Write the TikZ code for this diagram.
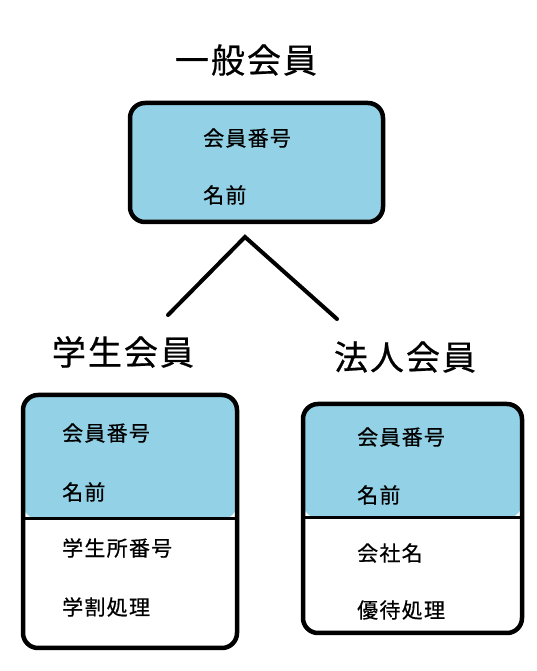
\documentclass[tikz,border=0pt]{standalone}
\usepackage{fontspec}
\setmainfont{Noto Sans CJK JP}
\newfontfamily\jpfont[LetterSpace=6,FakeBold=0.6]{Noto Sans CJK JP}
\definecolor{memblue}{RGB}{147,210,230}
\begin{document}
\begin{tikzpicture}[x=1pt,y=1pt,
  box/.style={draw=black, line width=4.5pt, rounded corners=15pt, inner sep=0pt},
  title/.style={font=\fontsize{34}{40}\selectfont\jpfont, inner sep=0pt},
  attr/.style={font=\fontsize{21}{25}\selectfont\jpfont, anchor=west, inner sep=0pt},
  link/.style={line width=4pt, line cap=round}]
\useasboundingbox (0,0) rectangle (536,671);
% general member
\node[title] (tgen) at (246,611) {一般会員};
\node[box, fill=memblue, minimum width=253pt, minimum height=119pt] (gen) at (256.5,508.5) {};
\node[attr] (g1) at (203,533) {会員番号};
\node[attr] (g2) at (203,476) {名前};
% student member
\node[title] (tstu) at (123,319) {学生会員};
\coordinate (sdivl) at (23,152);
\coordinate (sdivr) at (237,152);
\node[box, minimum width=214pt, minimum height=253pt,
  path picture={\fill[memblue] (path picture bounding box.north west) rectangle ([yshift=-124pt]path picture bounding box.north east);
                \draw[line width=3pt] (sdivl) -- (sdivr);}] (stu) at (130,149.5) {};
\node[attr] (s1) at (62,238) {会員番号};
\node[attr] (s2) at (62,179) {名前};
\node[attr] (s3) at (62,123) {学生所番号};
\node[attr] (s4) at (62,64) {学割処理};
% corporate member
\node[title] (tcor) at (405,314) {法人会員};
\coordinate (cdivl) at (303,153);
\coordinate (cdivr) at (522,153);
\node[box, minimum width=219pt, minimum height=229pt,
  path picture={\fill[memblue] (path picture bounding box.north west) rectangle ([yshift=-114pt]path picture bounding box.north east);
                \draw[line width=3pt] (cdivl) -- (cdivr);}] (cor) at (412.5,152.5) {};
\node[attr] (c1) at (357,234) {会員番号};
\node[attr] (c2) at (357,176) {名前};
\node[attr] (c3) at (357,118) {会社名};
\node[attr] (c4) at (357,61) {優待処理};
% inheritance lines
\coordinate (apex) at (245,434);
\coordinate (lend) at (168,356);
\coordinate (rend) at (337,352);
\draw[link] (lend) -- (apex) -- (rend);
\end{tikzpicture}
\end{document}
